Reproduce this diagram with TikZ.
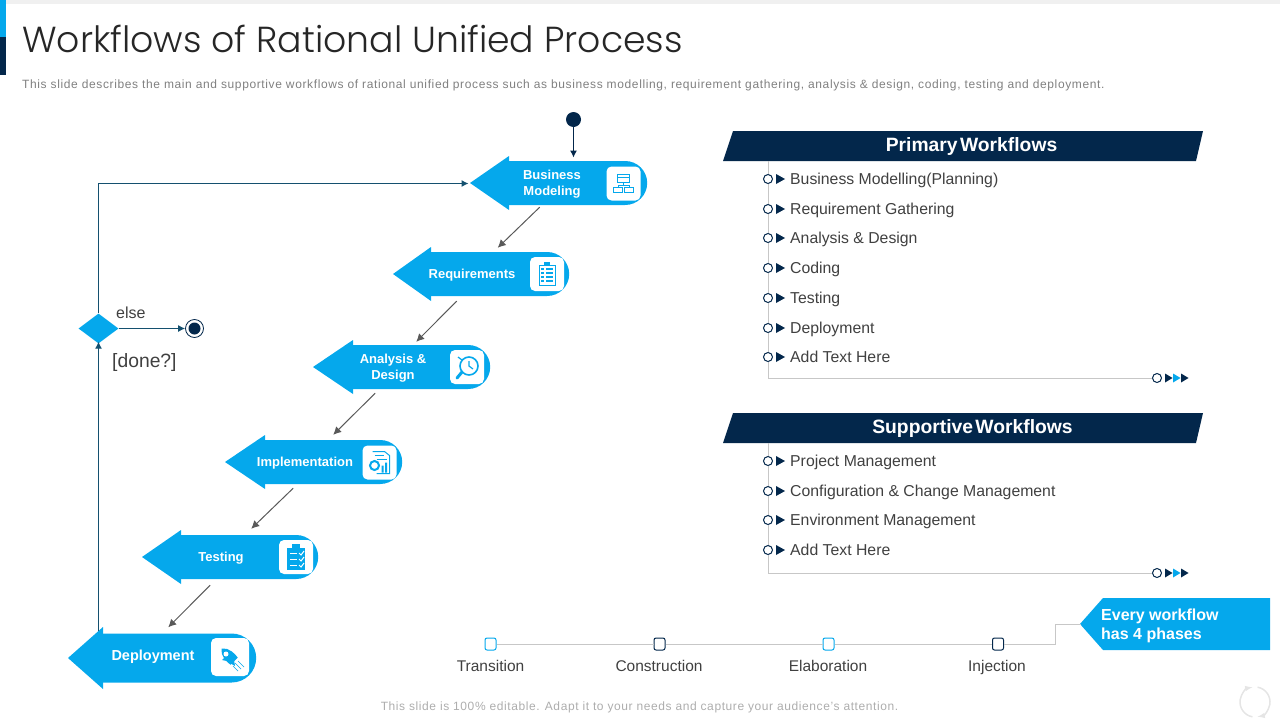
\documentclass[tikz,border=0pt]{standalone}
\usepackage{fontspec}
\usepackage{tikz}
\usetikzlibrary{arrows.meta, shapes.geometric, shapes.misc}
\setmainfont{Liberation Sans}
\newfontfamily\titlefont{Poppins Light}
\definecolor{navy}{HTML}{03274B}
\definecolor{sky}{HTML}{05A8EC}
\definecolor{teal}{HTML}{14506F}
\definecolor{ink}{HTML}{404040}
\newcommand{\fsz}[1]{\fontsize{#1}{#1}\selectfont}
\tikzset{
  stage/.style={rounded rectangle, rounded rectangle west arc=none, fill=sky, inner sep=0pt, anchor=west},
  iconbox/.style={fill=white, rounded corners=5pt, minimum size=34pt, inner sep=0pt},
  icon/.style={draw=sky, line width=1pt},
  steplabel/.style={text=white, font=\bfseries, align=center, inner sep=0pt},
  flow/.style={-{Latex[length=8pt, width=8pt]}, line width=1pt, draw=black!65},
  loopline/.style={-{Latex[length=7pt, width=7pt]}, line width=1pt, draw=teal},
  rail/.style={draw=black!22, line width=0.8pt},
  ring/.style={circle, draw=navy, fill=white, line width=1pt, minimum size=9pt, inner sep=0pt},
  itemtext/.style={anchor=west, text=ink, inner sep=0pt, text height=13pt, text depth=3pt, font=\fsz{15.8}},
  phase/.style={draw=#1, fill=white, rounded corners=2pt, line width=1pt, minimum width=11pt, minimum height=12pt, inner sep=0pt},
  phasetext/.style={text=ink, inner sep=0pt, text height=13pt, text depth=3pt, font=\fsz{15.5}},
}
\begin{document}
\begin{tikzpicture}[x=1pt, y=-1pt]
  \useasboundingbox (0, 0) rectangle (1280, 720);
  % top of the slide
  \fill[black!6] (6, 0) rectangle (1280, 4);
  \fill[sky] (0, 0) rectangle (6, 37);
  \fill[navy] (0, 37) rectangle (6, 75);
  \node[anchor=west, inner sep=0pt, text=black!85, font=\titlefont\fsz{36.2}] (title) at (22, 39) {Workflows of Rational Unified Process};
  \node[anchor=west, inner sep=0pt, text=black!50, font=\fsz{12}\addfontfeature{LetterSpace=5.2}] (subtitle) at (22, 85) {This slide describes the main and supportive workflows of rational unified process such as business modelling, requirement gathering, analysis \& design, coding, testing and deployment.};

  % stages: tip, head base, right end, y, half head, shaft height
  \foreach \i/\tip/\base/\right/\y/\hh/\sh/\lx/\ly/\fs/\txt in {
    1/470/509/647/183/27/44/552/184/13/Business\\Modeling,
    2/393/431/569/274/27/44/472/275/13/Requirements,
    3/313/353/490/367/27/44/393/368/13/Analysis \&\\Design,
    4/225/265/402/462/27/44/305/463/13/Implementation,
    5/142/181/318/557/27/44/221/558/13/Testing,
    6/68/103/256/658/31/49/153/657/14.5/Deployment} {
    \node[stage, minimum width={\right-\base+1}, minimum height=\sh] (s\i) at (\base-1, \y) {};
    \fill[sky] (\tip, \y) -- (\base, \y-\hh) -- (\base, \y+\hh) -- cycle;
    \node[steplabel, font=\bfseries\fontsize{\fs}{16}\selectfont] (lab\i) at (\lx, \ly) {\txt};
  }
  \node[iconbox] (icon1) at (623.5, 183.5) {};
  \node[iconbox] (icon2) at (547, 274) {};
  \node[iconbox] (icon3) at (467, 367) {};
  \node[iconbox] (icon4) at (379.5, 462.5) {};
  \node[iconbox] (icon5) at (296, 557) {};
  \node[iconbox, minimum size=38pt] (icon6) at (230, 657) {};

  % icons
  \begin{scope}[shift={(icon1.center)}]
    \draw[icon] (-6, -9) rectangle (6, -1);
    \draw[icon] (-6, -6) -- (6, -6);
    \draw[icon] (-10, 4) rectangle (-1, 9);
    \draw[icon] (1, 4) rectangle (10, 9);
    \draw[icon] (0, -1) -- (0, 2) (-5.5, 4) -- (-5.5, 2) -- (5.5, 2) -- (5.5, 4);
  \end{scope}
  \begin{scope}[shift={(icon2.center)}]
    \draw[icon] (-8, -9) rectangle (8, 11);
    \fill[sky] (-3, -12) rectangle (3, -8);
    \foreach \v in {-5, -1, 3, 7} {
      \fill[sky] (-6, \v-1) rectangle (-3, \v+1);
      \draw[icon, line width=1.4pt] (-1, \v) -- (6, \v);
    }
  \end{scope}
  \begin{scope}[shift={(icon3.center)}]
    \draw[icon, line width=1.6pt] (2, -1) circle (9);
    \draw[icon, line width=3pt, line cap=round] (-5, 5) -- (-10, 11);
    \draw[icon, line width=1.2pt] (2, -6) -- (2, -1) -- (6, 2);
    \draw[icon, line width=1.2pt] (-9, -10) -- (-5, -7);
  \end{scope}
  \begin{scope}[shift={(icon4.center)}]
    \draw[icon] (-7, -11) -- (5, -11) -- (10, -7) -- (10, 11) -- (-3, 11);
    \draw[icon, line width=2pt] (-5, 3) circle (4.5);
    \fill[sky] (2, 3) rectangle (4, 10) (5.5, 0) rectangle (7.5, 10);
    \draw[icon] (-5, -7) -- (4, -7) (-3, -3) -- (7, -3);
  \end{scope}
  \begin{scope}[shift={(icon5.center)}]
    \fill[sky] (-9, -9) rectangle (9, 13);
    \fill[sky] (-4, -13) rectangle (4, -8);
    \foreach \v in {-4, 2, 8} {
      \draw[white, line width=1pt] (-6, \v) -- (1, \v);
      \draw[white, line width=1pt] (3, \v) -- (5, \v+2) -- (8, \v-2);
    }
  \end{scope}
  \begin{scope}[shift={(icon6.center)}]
    \fill[sky, rotate=-45] (-12, 0) .. controls (-8, -6) and (2, -6) .. (6, -5) -- (6, 5) .. controls (2, 6) and (-8, 6) .. (-12, 0) -- cycle;
    \fill[sky] (-3, 4) -- (-8, 3) -- (-4, -1) -- cycle (4, 3) -- (5, 9) -- (0, 6) -- cycle;
    \fill[white] (-4, -3) circle (2.5);
    \draw[icon, line width=0.7pt] (5, 6) -- (11, 12) (8, 4) -- (14, 10) (3, 9) -- (8, 14);
  \end{scope}

  % flow between the stages
  \draw[flow] ([shift={(-38, 2)}]s1.south) -- ([shift={(-2, -4)}]s2.north);
  \draw[flow] ([shift={(-43, 5)}]s2.south) -- ([shift={(-5, -3)}]s3.north);
  \draw[flow] ([shift={(-46, 4)}]s3.south) -- ([shift={(0, -5)}]s4.north);
  \draw[flow] ([shift={(-40, 4)}]s4.south) -- ([shift={(2, -6)}]s5.north);
  \draw[flow] ([shift={(-39, 6)}]s5.south) -- ([shift={(-11, -6)}]s6.north);

  % start, decision, end
  \node[circle, fill=navy, minimum size=15pt, inner sep=0pt] (start) at (573.5, 119.5) {};
  \coordinate (entry) at (573.5, 157.5);
  \draw[-{Latex[length=7pt, width=7pt]}, line width=1pt, draw=navy] (start.south) -- (entry);
  \node[diamond, fill=sky, minimum width=40pt, minimum height=30pt, inner sep=0pt] (done) at (98.5, 328.5) {};
  \node[circle, draw=navy, line width=0.8pt, minimum size=18pt, inner sep=0pt] (stop) at (194.5, 328.5) {};
  \fill[navy] (stop.center) circle (6);
  \coordinate (back) at (98.5, 631);
  \coordinate (bend) at (98.5, 183.5);
  \coordinate (again) at (468.5, 183.5);
  \draw[loopline] (back) -- ([yshift=2]done.south);
  \draw[loopline] (done.north) -- (bend) -- (again);
  \draw[loopline] (done.east) -- (stop.west);
  \node[anchor=west, inner sep=0pt, text=ink, font=\fsz{16}] (els) at (116, 313) {else};
  \node[anchor=west, inner sep=0pt, text=ink, font=\fsz{19.3}] (ask) at (112, 362.5) {[done?]};

  % primary workflows
  \fill[navy] (733, 131) -- (1203, 131) -- (1196, 161) -- (723, 161) -- cycle;
  \node[text=white, inner sep=0pt, font=\bfseries\fsz{19.3}] (head1) at (971.5, 147) {Primary\hspace{-3pt} Workflows};
  \coordinate (top1) at (768, 161);
  \node[ring] (end1) at (1157, 378) {};
  \draw[rail] (top1) |- (end1);
  \foreach \y/\txt [count=\i] in {179/Business Modelling(Planning), 209/Requirement Gathering, 238/Analysis \& Design, 268/Coding, 298/Testing, 328/Deployment, 357/Add Text Here} {
    \node[ring] (a\i) at (768, \y) {};
    \fill[navy] (776, \y-5) -- (785, \y) -- (776, \y+5) -- cycle;
    \node[itemtext] (at\i) at (790, \y) {\txt};
  }
  \foreach \x/\c in {1165/navy, 1173/sky, 1181/navy} {
    \fill[\c] (\x, 373.5) -- (\x+7.5, 378) -- (\x, 382.5) -- cycle;
  }

  % supportive workflows
  \fill[navy] (733, 413) -- (1203, 413) -- (1196, 443) -- (723, 443) -- cycle;
  \node[text=white, inner sep=0pt, font=\bfseries\fsz{19.3}] (head2) at (972.5, 429) {Supportive\hspace{-3pt} Workflows};
  \coordinate (top2) at (768, 443);
  \node[ring] (end2) at (1157, 573) {};
  \draw[rail] (top2) |- (end2);
  \foreach \y/\txt [count=\i] in {461/Project Management, 491/Configuration \& Change Management, 520/Environment Management, 550/Add Text Here} {
    \node[ring] (b\i) at (768, \y) {};
    \fill[navy] (776, \y-5) -- (785, \y) -- (776, \y+5) -- cycle;
    \node[itemtext] (bt\i) at (790, \y) {\txt};
  }
  \foreach \x/\c in {1165/navy, 1173/sky, 1181/navy} {
    \fill[\c] (\x, 568.5) -- (\x+7.5, 573) -- (\x, 577.5) -- cycle;
  }

  % phases
  \fill[sky] (1080, 624) -- (1103, 598) -- (1270, 598) -- (1270, 650) -- (1103, 650) -- cycle;
  \coordinate (note) at (1081, 624);
  \node[anchor=north west, inner sep=0pt, text=white, align=left, font=\bfseries\fontsize{16}{19}\selectfont] (notetext) at (1101, 609) {Every workflow\\has 4 phases};
  \node[phase=sky] (p1) at (490.5, 644) {};
  \node[phase=navy] (p2) at (659.5, 644) {};
  \node[phase=sky] (p3) at (828.5, 644) {};
  \node[phase=navy] (p4) at (998, 644) {};
  \draw[rail] (p1) -- (p2);
  \draw[rail] (p2) -- (p3);
  \draw[rail] (p3) -- (p4);
  \draw[rail] (p4) -- (1055, 644) -- (1055, 624) -- (note);
  \node[phasetext] (q1) at (490.5, 666) {Transition};
  \node[phasetext] (q2) at (659, 666) {Construction};
  \node[phasetext] (q3) at (828, 666) {Elaboration};
  \node[phasetext] (q4) at (997, 666) {Injection};

  % foot of the slide
  \node[inner sep=0pt, text=black!32, font=\fsz{12}\addfontfeature{LetterSpace=4.9}] (foot) at (639.5, 707) {This slide is 100\% editable. Adapt it to your needs and capture your audience's attention.};
  \draw[black!10, line width=1.5pt, -latex] (1252.4, 716.8) arc (100:260:15);
  \draw[black!10, line width=1.5pt, -latex] (1257.6, 687.2) arc (-80:80:15);
\end{tikzpicture}
\end{document}
